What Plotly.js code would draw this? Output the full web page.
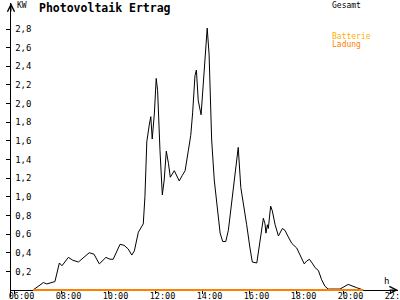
<!DOCTYPE html>
<html>
<head>
<meta charset="utf-8">
<script src="https://cdn.plot.ly/plotly-3.0.1.min.js"></script>
<style>html,body{margin:0;padding:0;background:#fff;}#chart{width:400px;height:300px;}</style>
</head>
<body>
<div id="chart"></div>
<script>
// Data
const chartTitle = "Photovoltaik Ertrag";
const seriesNames = ["Gesamt", "Batterie", "Ladung"];
const unitY = "KW";
const unitX = "h";

// Gesamt: time in decimal hours, power in kW
const gesamtHours = [6.79, 7.23, 7.37, 7.65, 7.72, 7.91, 8.02, 8.29, 8.48, 8.72,
  9.18, 9.38, 9.61, 9.89, 10.06, 10.20, 10.49, 10.66, 10.84, 10.99,
  11.10, 11.27, 11.48, 11.55, 11.63, 11.74, 11.80, 11.86, 11.95, 12.03,
  12.09, 12.19, 12.29, 12.37, 12.46, 12.55, 12.63, 12.80, 12.90, 13.01,
  13.14, 13.26, 13.40, 13.50, 13.58, 13.68, 13.74, 13.82, 13.94, 14.03,
  14.14, 14.20, 14.28, 14.39, 14.50, 14.63, 14.75, 14.86, 14.99, 15.10,
  15.24, 15.38, 15.46, 15.52, 15.63, 15.74, 15.88, 16.02, 16.12, 16.31,
  16.40, 16.52, 16.59, 16.66, 16.70, 16.76, 16.80, 16.90, 16.97, 17.09,
  17.23, 17.40, 17.51, 17.65, 17.80, 18.01, 18.15, 18.33, 18.43, 18.55,
  18.69, 18.79, 18.93, 19.07, 19.21, 19.35, 19.85, 20.20, 20.56, 20.84];
const gesamtKW = [0, 0.08, 0.065, 0.08, 0.09, 0.29, 0.26, 0.35, 0.32, 0.30,
  0.40, 0.385, 0.28, 0.35, 0.33, 0.33, 0.49, 0.48, 0.44, 0.375,
  0.42, 0.62, 0.71, 1.00, 1.59, 1.78, 1.86, 1.62, 1.89, 2.27,
  2.14, 1.50, 1.02, 1.18, 1.49, 1.36, 1.21, 1.28, 1.23, 1.17,
  1.23, 1.28, 1.50, 1.66, 1.90, 2.30, 2.36, 2.03, 1.88, 2.18,
  2.62, 2.81, 2.53, 1.61, 1.18, 0.89, 0.61, 0.52, 0.52, 0.64,
  0.96, 1.23, 1.39, 1.53, 1.10, 0.90, 0.70, 0.45, 0.30, 0.29,
  0.43, 0.66, 0.77, 0.71, 0.61, 0.70, 0.66, 0.90, 0.85, 0.70,
  0.58, 0.66, 0.64, 0.57, 0.50, 0.45, 0.375, 0.28, 0.31, 0.33,
  0.28, 0.24, 0.21, 0.11, 0.04, 0.01, 0.01, 0.06, 0.025, 0];

// Batterie Ladung: flat zero over the same period
const ladungHours = [6.79, 20.84];
const ladungKW = [0, 0];

// Axis ticks
const xTickVals = [6, 8, 10, 12, 14, 16, 18, 20, 22];
const xTickText = ["06:00", "08:00", "10:00", "12:00", "14:00", "16:00", "18:00", "20:00", "22:00"];
const yTickVals = [0.2, 0.4, 0.6, 0.8, 1.0, 1.2, 1.4, 1.6, 1.8, 2.0, 2.2, 2.4, 2.6, 2.8];

const MONO = "DejaVu Sans Mono, Liberation Mono, monospace";

const traces = [
  {x: gesamtHours, y: gesamtKW, type: "scatter", mode: "lines", name: seriesNames[0],
   line: {color: "#000000", width: 1}, hoverinfo: "skip"},
  {x: ladungHours, y: ladungKW, type: "scatter", mode: "lines", name: seriesNames[1] + " " + seriesNames[2],
   line: {color: "#ff8000", width: 2}, hoverinfo: "skip"}
];

const layout = {
  width: 400, height: 300,
  margin: {l: 11, r: 2, t: 3, b: 3},
  paper_bgcolor: "#ffffff", plot_bgcolor: "#ffffff",
  showlegend: false,
  separators: ",.",
  font: {family: MONO, size: 9, color: "#000"},
  title: {text: chartTitle, xref: "container", x: 39/400, xanchor: "left",
          yref: "container", y: 1 - 8/300, yanchor: "middle",
          font: {family: MONO, size: 11.5, weight: "bold", color: "#000"}},
  xaxis: {
    range: [5.851, 22.319], anchor: "free", position: 7/294,
    showline: true, linecolor: "#000", linewidth: 1,
    ticks: "outside", ticklen: 3, tickcolor: "#000", tickwidth: 1,
    tickvals: xTickVals, ticktext: xTickText,
    tickfont: {family: MONO, size: 8.5, color: "#000"},
    ticklabelshift: 7, ticklabelstandoff: -5, ticklabeloverflow: "allow",
    showgrid: false, zeroline: false, layer: "below traces", fixedrange: true
  },
  yaxis: {
    range: [-0.0751, 3.0794],
    showline: true, linecolor: "#000", linewidth: 1,
    ticks: "outside", ticklen: 4, tickcolor: "#000", tickwidth: 1,
    tickvals: yTickVals, tickformat: ".1f",
    ticklabelposition: "inside", ticklabelstandoff: 3, ticklabeloverflow: "allow",
    tickfont: {family: MONO, size: 9, color: "#000"},
    showgrid: false, zeroline: false, layer: "below traces", fixedrange: true
  },
  annotations: [
    // axis arrows
    {xref: "paper", yref: "paper", x: 0, y: 1, ax: 0, ay: 10, axref: "pixel", ayref: "pixel",
     text: "", showarrow: true, arrowhead: 5, arrowsize: 1.4, arrowwidth: 1, arrowcolor: "#000"},
    {xref: "paper", yref: "y", x: 1, y: 0, ax: -10, ay: 0,
     text: "", showarrow: true, arrowhead: 5, arrowsize: 1.4, arrowwidth: 1, arrowcolor: "#000"},
    // axis units
    {xref: "paper", yref: "paper", x: 4/387, y: (297-5)/294, xanchor: "left", yanchor: "middle",
     text: unitY, showarrow: false, font: {family: MONO, size: 8, color: "#000"}},
    {xref: "paper", yref: "paper", x: (386-11)/387, y: (297-281)/294, xanchor: "center", yanchor: "middle",
     text: unitX, showarrow: false, font: {family: MONO, size: 9, color: "#000"}},
    // legend
    {xref: "paper", yref: "paper", x: (330-11)/387, y: (297-5)/294, xanchor: "left", yanchor: "middle",
     text: seriesNames[0], showarrow: false, font: {family: MONO, size: 8, color: "#000"}},
    {xref: "paper", yref: "paper", x: (330-11)/387, y: (297-36)/294, xanchor: "left", yanchor: "middle",
     text: seriesNames[1], showarrow: false, font: {family: MONO, size: 8, color: "#ffb000"}},
    {xref: "paper", yref: "paper", x: (330-11)/387, y: (297-44)/294, xanchor: "left", yanchor: "middle",
     text: seriesNames[2], showarrow: false, font: {family: MONO, size: 8, color: "#ff8000"}}
  ]
};

Plotly.newPlot("chart", traces, layout, {staticPlot: true, displayModeBar: false});
</script>
</body>
</html>
